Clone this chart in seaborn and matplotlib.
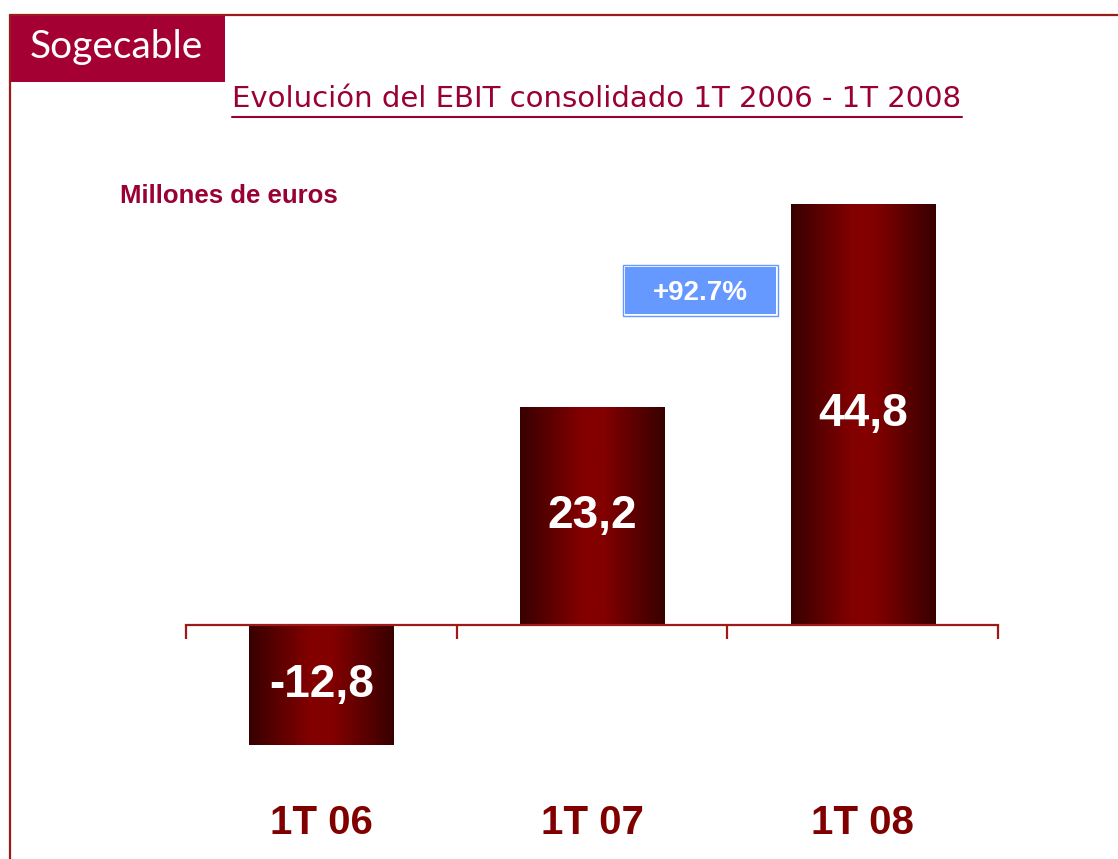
import numpy as np
import matplotlib.pyplot as plt
import matplotlib.transforms as mtransforms
import seaborn as sns
from matplotlib.colors import LinearSegmentedColormap
from matplotlib.patches import Rectangle
from matplotlib.lines import Line2D

# Data
categories = ['1T 06', '1T 07', '1T 08']
values = [-12.8, 23.2, 44.8]
value_labels = ['-12,8', '23,2', '44,8']
growth_label = '+92.7%'

sns.set_style('white')
plt.rcParams['font.family'] = ['Liberation Sans', 'DejaVu Sans']

fig = plt.figure(figsize=(11.18, 8.59), dpi=100)
fig.patch.set_facecolor('white')

# Frame lines and logo
frame_col = '#9B1B1B'
fig.add_artist(Line2D([10 / 1118, 10 / 1118], [0, 1 - 15 / 859], color=frame_col, lw=1.6))
fig.add_artist(Line2D([10 / 1118, 1], [1 - 15 / 859, 1 - 15 / 859], color=frame_col, lw=1.6))
fig.add_artist(Rectangle((10 / 1118, 1 - 82 / 859), 215 / 1118, 67 / 859,
                         transform=fig.transFigure, facecolor='#A50034', edgecolor='none'))
fig.text(30 / 1118, 1 - 58 / 859, 'Sogecable', color='white', fontsize=28,
         family=['Lato', 'DejaVu Sans'], va='baseline', ha='left')

# Title with underline
title_col = '#990033'
title = fig.text(597 / 1118, 1 - 99 / 859, 'Evolución del EBIT consolidado 1T 2006 - 1T 2008',
                 color=title_col, fontsize=21, family=['DejaVu Sans'],
                 ha='center', va='center')
fig.canvas.draw()
bb = title.get_window_extent().transformed(fig.transFigure.inverted())
fig.add_artist(Line2D([bb.x0, bb.x1], [1 - 117 / 859, 1 - 117 / 859], color=title_col, lw=1.5))

fig.text(120 / 1118, 1 - 196 / 859, 'Millones de euros', color=title_col, fontsize=18.5,
         fontweight='bold', ha='left', va='center')

# Chart
ax = fig.add_axes([186 / 1118, 99 / 859, 812 / 1118, 580 / 859])
sns.barplot(x=categories, y=values, ax=ax, color='#800000', width=0.533,
            saturation=1, linewidth=0)

# horizontal dark-bright-dark shading on each bar
cmap = LinearSegmentedColormap.from_list(
    'bar', [(0, '#380000'), (0.42, '#820000'), (0.58, '#820000'), (1, '#380000')])
grad = np.linspace(0, 1, 256).reshape(1, -1)
for patch in ax.patches:
    x0, y0 = patch.get_x(), patch.get_y()
    w, h = patch.get_width(), patch.get_height()
    im = ax.imshow(grad, extent=[x0, x0 + w, y0, y0 + h], aspect='auto', cmap=cmap,
                   zorder=patch.get_zorder() + 0.1)
    im.set_clip_path(patch)

for i, (v, lab) in enumerate(zip(values, value_labels)):
    ax.text(i, v / 2, lab, color='white', fontsize=33, fontweight='bold',
            ha='center', va='center', zorder=5)

ax.set_xlim(-0.5, 2.5)
ax.set_ylim(-14.36, 47.34)

axis_col = '#A01818'
for s in ['top', 'right', 'left']:
    ax.spines[s].set_visible(False)
ax.spines['bottom'].set_position(('data', 0))
ax.spines['bottom'].set_color(axis_col)
ax.spines['bottom'].set_linewidth(1.6)
ax.set_yticks([])
ax.set_xticks([-0.5, 0.5, 1.5, 2.5])
ax.set_xticklabels([])
ax.tick_params(axis='x', bottom=True, direction='out', length=10, width=1.6, color=axis_col)
ax.set_xlabel('')

# category labels placed in figure y coordinates
trans = mtransforms.blended_transform_factory(ax.transData, fig.transFigure)
for i, c in enumerate(categories):
    ax.text(i, 1 - 823 / 859, c, transform=trans, color='#800000',
            fontsize=29, fontweight='bold', ha='center', va='center', clip_on=False)

# Growth badge
fig.add_artist(Rectangle((623 / 1118, 1 - 316 / 859), 155 / 1118, 51 / 859,
                         transform=fig.transFigure, facecolor='white', edgecolor='#6699FF', lw=1))
fig.add_artist(Rectangle((625 / 1118, 1 - 314 / 859), 151 / 1118, 47 / 859,
                         transform=fig.transFigure, facecolor='#6699FF', edgecolor='none'))
fig.text(700 / 1118, 1 - 293 / 859, growth_label, color='white', fontsize=20,
         fontweight='bold', ha='center', va='center')

plt.savefig('out.png', dpi=100)
